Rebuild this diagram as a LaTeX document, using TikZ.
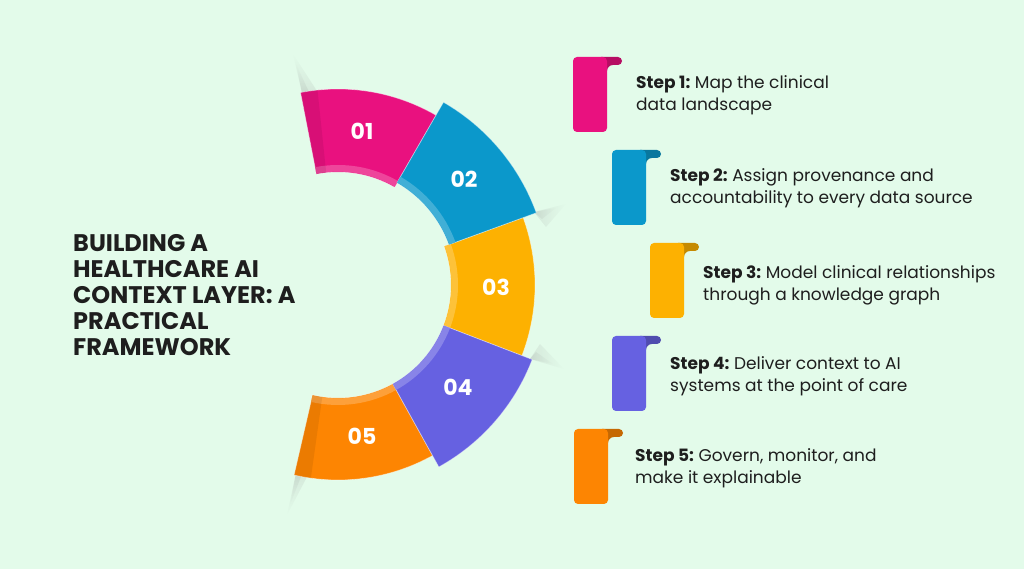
\documentclass[tikz,border=0pt]{standalone}
\usepackage{fontspec}
\setmainfont{Poppins}
\usetikzlibrary{fadings}
\definecolor{bg}{HTML}{E3FBEA}
\definecolor{cpink}{HTML}{E9117F}
\definecolor{cblue}{HTML}{0B98CB}
\definecolor{cyellow}{HTML}{FDB101}
\definecolor{cpurple}{HTML}{6661E1}
\definecolor{corange}{HTML}{FD8502}
\definecolor{ink}{HTML}{1E1E1E}
\frenchspacing

\begin{document}
\begin{tikzpicture}
  [x=1pt,y=1pt,every node/.style={inner sep=0pt,text=ink},
   ringnum/.style={text=white,font=\fontsize{22}{22}\selectfont\bfseries},
   steptext/.style={anchor=west,align=left,font=\fontsize{17}{22}\selectfont},
   titletext/.style={anchor=west,align=left,font=\fontsize{24}{26}\selectfont\bfseries},
   softshadow/.style={fill=black!45,opacity=.16}] % pixel grid, y counted from the bottom

  \fill[bg] (0,0) rectangle (1024,569);
  \useasboundingbox (0,0) rectangle (1024,569);

  % soft shadows behind the ring ends, two layers each
  \fill[softshadow,path fading=north] (293,515) -- (302,476) -- (317,478) -- cycle;
  \fill[softshadow,path fading=north] (296,505) -- (302,476) -- (309,477) -- cycle;
  \fill[softshadow,path fading=south] (287,54) -- (296,96) -- (308,94) -- cycle;
  \fill[softshadow,path fading=south] (290,64) -- (296,96) -- (302,95) -- cycle;
  \fill[softshadow,path fading=east] (534,357) -- (566,365) -- (546,342) -- cycle;
  \fill[softshadow,path fading=east] (534,357) -- (556,361) -- (542,350) -- cycle;
  \fill[softshadow,path fading=east] (530,210) -- (564,200) -- (540,225) -- cycle;
  \fill[softshadow,path fading=east] (530,210) -- (553,205) -- (536,217) -- cycle;

  % the ring, 02 and 04 last so they sit on top
  \begin{scope}[shift={(338,284)}]
    \foreach \a/\b/\ri/\ro/\c in {101/60/113/196/cpink, 20/-21/113/197/cyellow, -61/-103/113/195/corange, 60/20/118/211/cblue, -21/-61/113/208/cpurple}{
      \fill[\c,draw=white,draw opacity=.45,line width=.7pt] (\a:\ri) -- (\a:\ro) arc[start angle=\a,end angle=\b,radius=\ro] -- (\b:\ri) arc[start angle=\b,end angle=\a,radius=\ri] -- cycle;
      \fill[\c!78!white] (\a:{\ri+.4}) -- (\a:{\ri+7}) arc[start angle=\a,end angle=\b,radius=\ri+7] -- (\b:{\ri+.4}) arc[start angle=\b,end angle=\a,radius=\ri+.4] -- cycle;
    }
    \fill[black,opacity=.07] (101:113) -- (101:196) arc[start angle=101,end angle=96,radius=196] -- (96:113) arc[start angle=96,end angle=101,radius=113] -- cycle;
    \fill[black,opacity=.07] (-103:113) -- (-103:195) arc[start angle=-103,end angle=-98,radius=195] -- (-98:113) arc[start angle=-98,end angle=-103,radius=113] -- cycle;
  \end{scope}

  \node[ringnum] (n1) at (362,438) {01};
  \node[ringnum] (n2) at (464,390) {02};
  \node[ringnum] (n3) at (496,282) {03};
  \node[ringnum] (n4) at (458,182) {04};
  \node[ringnum] (n5) at (362,133) {05};

  % folded flags in front of the steps
  \foreach \l/\t/\c in {573/57/cpink, 612/150/cblue, 650/243/cyellow, 612/336/cpurple, 574/429/corange}{
    \fill[\c!78!black] (\l+28,569-\t) -- (\l+45,569-\t) arc[start angle=90,end angle=-90,radius=4] -- (\l+40,561-\t) to[out=180,in=90] (\l+34,555-\t) -- (\l+28,555-\t) -- cycle;
    \fill[\c,rounded corners=4pt] (\l,494-\t) rectangle (\l+34,569-\t);
  }

  \node[titletext] (title) at (73,274) {BUILDING A\\HEALTHCARE AI\\CONTEXT LAYER: A\\PRACTICAL\\FRAMEWORK};

  \node[steptext] (s1) at (636,474) {\textbf{Step 1:} Map the clinical\\data landscape};
  \node[steptext] (s2) at (670,381) {\textbf{Step 2:} Assign provenance and\\accountability to every data source};
  \node[steptext] (s3) at (703,284) {\textbf{Step 3:} Model clinical relationships\\through a knowledge graph};
  \node[steptext] (s4) at (670,193) {\textbf{Step 4:} Deliver context to AI\\systems at the point of care};
  \node[steptext] (s5) at (635,101) {\textbf{Step 5:} Govern, monitor, and\\make it explainable};

\end{tikzpicture}
\end{document}
